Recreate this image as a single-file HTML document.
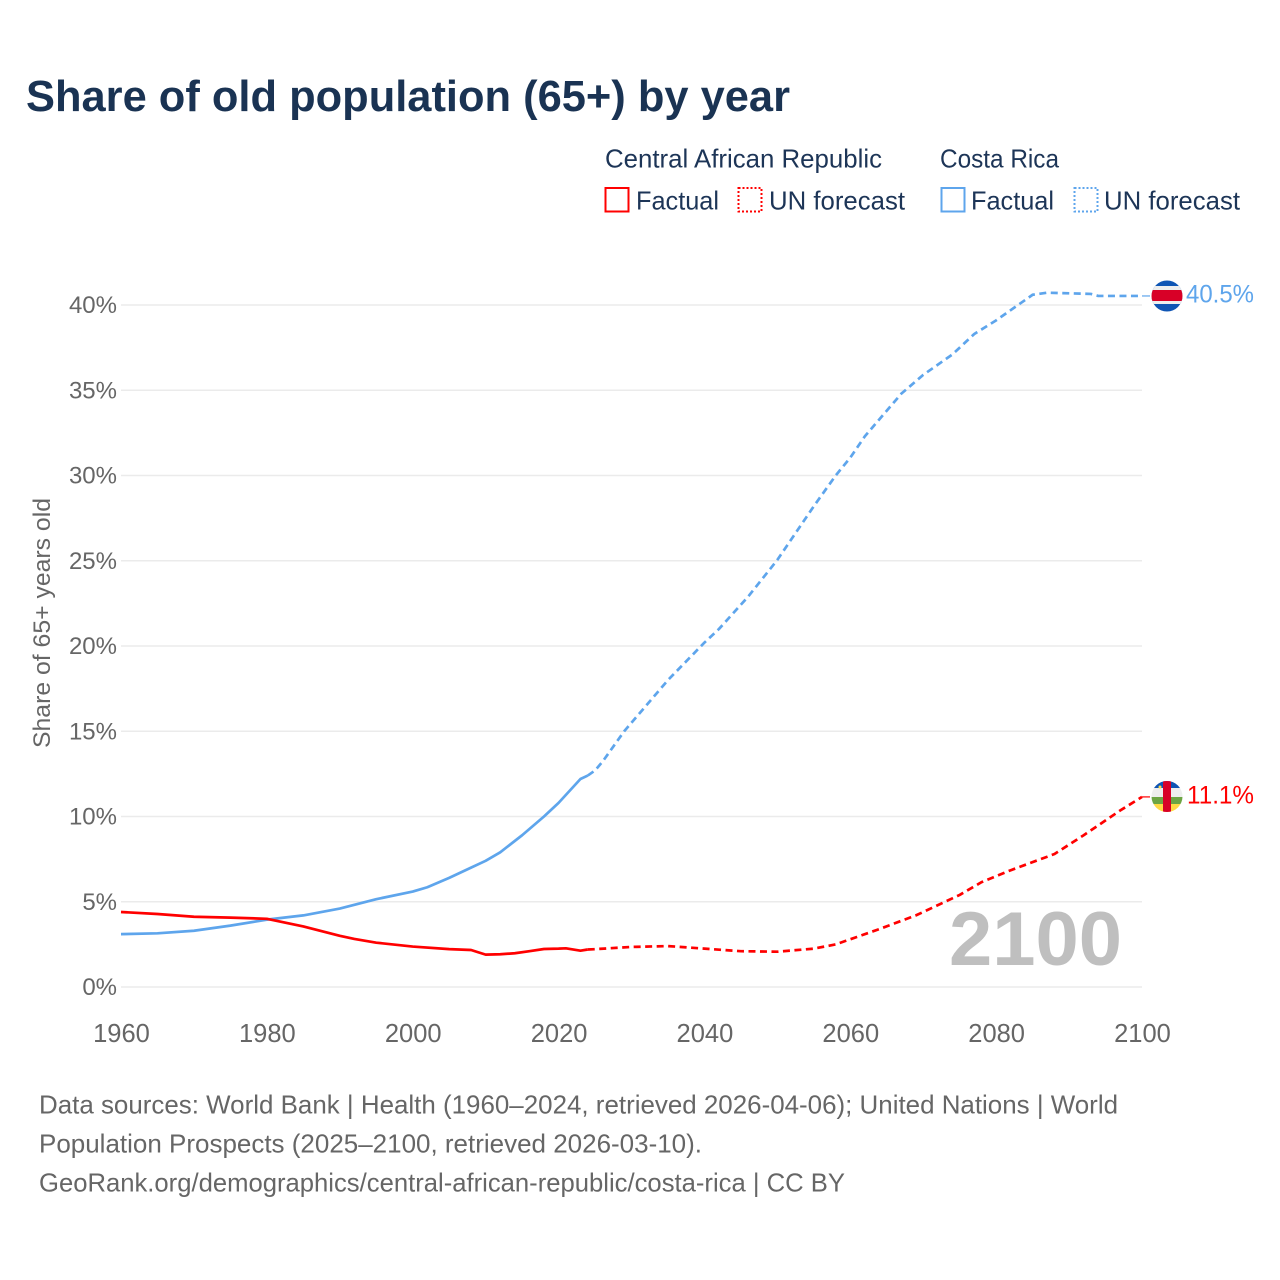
<!DOCTYPE html>
<html lang="en">
<head>
<meta charset="utf-8">
<title>Share of old population (65+) by year</title>
<style>
html,body{margin:0;padding:0;background:#fff;}
svg{display:block;font-family:"Liberation Sans",Arial,sans-serif;}
</style>
</head>
<body>
<svg id="chart" xmlns="http://www.w3.org/2000/svg" width="1280" height="1280" viewBox="0 0 1280 1280">
  <defs>
    <clipPath id="clip-flag-cr"><circle cx="1167" cy="296" r="15.5"/></clipPath>
    <clipPath id="clip-flag-car"><circle cx="1167" cy="796.5" r="15.5"/></clipPath>
  </defs>
  <rect width="1280" height="1280" fill="#fff"/>

  <text x="26" y="111" font-size="44" font-weight="700" fill="#1a3353" textLength="764" lengthAdjust="spacingAndGlyphs">Share of old population (65+) by year</text>

  <g font-size="26" fill="#1d3557">
    <text x="605" y="167.500" textLength="277" lengthAdjust="spacingAndGlyphs">Central African Republic</text>
    <text x="940" y="167.500" textLength="119" lengthAdjust="spacingAndGlyphs">Costa Rica</text>

    <rect x="605.5" y="188" width="23" height="23.500" fill="none" stroke="#ff0000" stroke-width="2"/>
    <text x="636" y="209.500" textLength="83" lengthAdjust="spacingAndGlyphs">Factual</text>
    <rect x="738.5" y="188" width="23" height="23.500" fill="none" stroke="#ff0000" stroke-width="2" stroke-dasharray="2 2"/>
    <text x="769" y="209.500" textLength="136" lengthAdjust="spacingAndGlyphs">UN forecast</text>

    <rect x="941.5" y="188" width="23" height="23.500" fill="none" stroke="#5ea5ec" stroke-width="2"/>
    <text x="971" y="209.500" textLength="83" lengthAdjust="spacingAndGlyphs">Factual</text>
    <rect x="1074.5" y="188" width="23" height="23.500" fill="none" stroke="#5ea5ec" stroke-width="2" stroke-dasharray="2 2"/>
    <text x="1104" y="209.500" textLength="136" lengthAdjust="spacingAndGlyphs">UN forecast</text>
  </g>

  <text transform="translate(50,748) rotate(-90)" font-size="24" fill="#666" textLength="250" lengthAdjust="spacingAndGlyphs">Share of 65+ years old</text>

  <g id="grid"></g>
  <g id="y-ticks"></g>
  <g id="x-ticks"></g>

  <text x="949" y="965" font-size="76" font-weight="700" fill="#bfbfbf" textLength="173" lengthAdjust="spacingAndGlyphs">2100</text>

  <g id="series"></g>

  <g clip-path="url(#clip-flag-cr)">
    <rect x="1151" y="280" width="32" height="32" fill="#0f55b4"/>
    <rect x="1151" y="286" width="32" height="18" fill="#eeeeee"/>
    <rect x="1151" y="290" width="32" height="11" fill="#d80027"/>
  </g>
  <g clip-path="url(#clip-flag-car)">
    <rect x="1151" y="781" width="32" height="7" fill="#0f55b4"/>
    <rect x="1151" y="788" width="32" height="10" fill="#eeeeee"/>
    <rect x="1151" y="797" width="32" height="7" fill="#6da544"/>
    <rect x="1151" y="804" width="32" height="9" fill="#ffda44"/>
    <rect x="1163" y="781" width="8" height="32" fill="#d80027"/>
    <circle cx="1160" cy="787" r="1.5" fill="#ffda44"/>
  </g>

  <text id="label-cr" x="1186" y="302.500" font-size="25" fill="#5ea5ec" textLength="68" lengthAdjust="spacingAndGlyphs">40.5%</text>
  <text id="label-car" x="1187" y="803.500" font-size="25" fill="#ff0000" textLength="67" lengthAdjust="spacingAndGlyphs">11.1%</text>

  <g font-size="26" fill="#666">
    <text x="39" y="1113.500" textLength="1079" lengthAdjust="spacingAndGlyphs">Data sources: World Bank | Health (1960–2024, retrieved 2026-04-06); United Nations | World</text>
    <text x="39" y="1152.500" textLength="663" lengthAdjust="spacingAndGlyphs">Population Prospects (2025–2100, retrieved 2026-03-10).</text>
    <text x="39" y="1191.500" textLength="806" lengthAdjust="spacingAndGlyphs">GeoRank.org/demographics/central-african-republic/costa-rica | CC BY</text>
  </g>
</svg>
<script>
var yTickValues = [0, 5, 10, 15, 20, 25, 30, 35, 40];
var xTickYears = [1960, 1980, 2000, 2020, 2040, 2060, 2080, 2100];

var carFactualYears = [1960,1965,1970,1975,1980,1985,1990,1992,1995,2000,2005,2008,2010,2012,2014,2016,2018,2020,2021,2023,2024];
var carFactualValues = [4.4,4.28,4.12,4.07,4.0,3.55,3.0,2.82,2.6,2.37,2.22,2.17,1.9,1.92,1.98,2.1,2.23,2.25,2.27,2.13,2.2];
var carForecastYears = [2024,2025,2030,2035,2040,2045,2050,2055,2058,2060,2064,2069,2075,2078,2082,2088,2092,2097,2100];
var carForecastValues = [2.2,2.22,2.35,2.4,2.25,2.1,2.07,2.25,2.5,2.8,3.4,4.2,5.4,6.15,6.85,7.8,8.9,10.35,11.15];

var crFactualYears = [1960,1965,1970,1975,1980,1985,1990,1995,2000,2002,2005,2008,2010,2012,2015,2018,2020,2023,2024];
var crFactualValues = [3.1,3.15,3.3,3.6,3.95,4.2,4.6,5.15,5.6,5.85,6.4,7.0,7.4,7.9,8.9,10.0,10.8,12.2,12.4];
var crForecastYears = [2024,2025,2026,2029,2031,2035,2040,2042,2046,2050,2055,2058,2060,2062,2064,2067,2070,2074,2077,2080,2085,2087,2093,2094,2100];
var crForecastValues = [12.4,12.7,13.2,15.0,16.0,18.0,20.2,21.0,22.9,25.05,28.2,30.0,31.05,32.3,33.3,34.8,35.9,37.1,38.3,39.1,40.6,40.72,40.65,40.53,40.53];

var SVG_NS = 'http://www.w3.org/2000/svg';
function xScale(year) { return 121 + (year - 1960) * (1142 - 121) / 140; }
function yScale(v) { return 987 - v * (987 - 305) / 40; }

function makeEl(tag, parent) {
  var el = document.createElementNS(SVG_NS, tag);
  parent.appendChild(el);
  return el;
}

var gridGroup = document.getElementById('grid');
var yTickGroup = document.getElementById('y-ticks');
yTickValues.forEach(function (v) {
  var line = makeEl('line', gridGroup);
  
  
  line.setAttribute('x1', xScale(1960));
  line.setAttribute('x2', xScale(2100));
  line.setAttribute('y1', yScale(v));
  line.setAttribute('y2', yScale(v));
  line.setAttribute('stroke', '#ebebeb');
  line.setAttribute('stroke-width', '1.5');

  var label = makeEl('text', yTickGroup);
  
  
  label.setAttribute('x', 117);
  label.setAttribute('y', yScale(v) + 8);
  label.setAttribute('text-anchor', 'end');
  label.setAttribute('font-size', '24');
  label.setAttribute('fill', '#666');
  label.textContent = v + '%';
});

var xTickGroup = document.getElementById('x-ticks');
xTickYears.forEach(function (year) {
  var label = makeEl('text', xTickGroup);
  
  
  label.setAttribute('x', xScale(year) + 0.5);
  label.setAttribute('y', 1042);
  label.setAttribute('text-anchor', 'middle');
  label.setAttribute('font-size', '25.5');
  label.setAttribute('fill', '#666');
  label.textContent = String(year);
});

var seriesGroup = document.getElementById('series');
function drawLine(years, values, color, dashed, name) {
  var d = years.map(function (y, i) {
    return (i ? 'L' : 'M') + xScale(y).toFixed(2) + ' ' + yScale(values[i]).toFixed(2);
  }).join(' ');
  var path = makeEl('path', seriesGroup);
  
  
  path.setAttribute('d', d);
  path.setAttribute('fill', 'none');
  path.setAttribute('stroke', color);
  path.setAttribute('stroke-width', '2.7');
  path.setAttribute('stroke-linejoin', 'round');
  if (dashed) path.setAttribute('stroke-dasharray', '7 4.5');
}
function drawConnector(value, color, name) {
  var line = makeEl('line', seriesGroup);
  
  
  line.setAttribute('x1', xScale(2100));
  line.setAttribute('x2', 1150);
  line.setAttribute('y1', yScale(value));
  line.setAttribute('y2', yScale(value));
  line.setAttribute('stroke', color);
  line.setAttribute('stroke-width', '1.5');
  line.setAttribute('stroke-opacity', '0.8');
}

drawLine(crFactualYears, crFactualValues, '#5ea5ec', false, 'line-costa-rica-factual');
drawLine(crForecastYears, crForecastValues, '#5ea5ec', true, 'line-costa-rica-forecast');
drawLine(carFactualYears, carFactualValues, '#ff0000', false, 'line-central-african-republic-factual');
drawLine(carForecastYears, carForecastValues, '#ff0000', true, 'line-central-african-republic-forecast');
drawConnector(crForecastValues[crForecastValues.length - 1], '#5ea5ec', 'connector-costa-rica');
drawConnector(carForecastValues[carForecastValues.length - 1], '#ff0000', 'connector-central-african-republic');
</script>
</body>
</html>
